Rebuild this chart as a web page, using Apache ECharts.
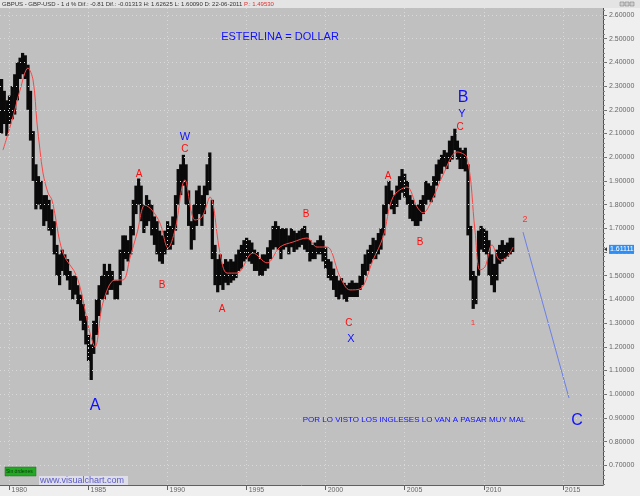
<!DOCTYPE html>
<html><head><meta charset="utf-8">
<script src="https://cdn.jsdelivr.net/npm/echarts@6/dist/echarts.min.js"></script>
<style>html,body{margin:0;padding:0;background:#efefef}#c{width:640px;height:496px}</style>
</head><body><div id="c"></div>
<script>
// ---- DATA ----
const dates = [1979.50,1979.67,1979.83,1980.00,1980.17,1980.33,1980.50,1980.67,1980.83,1981.00,1981.17,1981.33,1981.50,1981.67,1981.83,
1982.00,1982.17,1982.33,1982.50,1982.67,1982.83,1983.00,1983.17,1983.33,1983.50,1983.67,1983.83,1984.00,1984.17,1984.33,1984.50,1984.67,1984.83,
1985.00,1985.17,1985.33,1985.50,1985.67,1985.83,1986.00,1986.17,1986.33,1986.50,1986.67,1986.83,1987.00,1987.17,1987.33,1987.50,1987.67,1987.83,
1988.00,1988.17,1988.33,1988.50,1988.67,1988.83,1989.00,1989.17,1989.33,1989.50,1989.67,1989.83,1990.00,1990.17,1990.33,1990.50,1990.67,1990.83,
1991.00,1991.17,1991.33,1991.50,1991.67,1991.83,1992.00,1992.17,1992.33,1992.50,1992.67,1992.83,1993.00,1993.17,1993.33,1993.50,1993.67,1993.83,
1994.00,1994.17,1994.33,1994.50,1994.67,1994.83,1995.00,1995.17,1995.33,1995.50,1995.67,1995.83,1996.00,1996.17,1996.33,1996.50,1996.67,1996.83,
1997.00,1997.17,1997.33,1997.50,1997.67,1997.83,1998.00,1998.17,1998.33,1998.50,1998.67,1998.83,1999.00,1999.17,1999.33,1999.50,1999.67,1999.83,
2000.00,2000.17,2000.33,2000.50,2000.67,2000.83,2001.00,2001.17,2001.33,2001.50,2001.67,2001.83,2002.00,2002.17,2002.33,2002.50,2002.67,2002.83,
2003.00,2003.17,2003.33,2003.50,2003.67,2003.83,2004.00,2004.17,2004.33,2004.50,2004.67,2004.83,2005.00,2005.17,2005.33,2005.50,2005.67,2005.83,
2006.00,2006.17,2006.33,2006.50,2006.67,2006.83,2007.00,2007.17,2007.33,2007.50,2007.67,2007.83,2008.00,2008.17,2008.33,2008.50,2008.67,2008.83,
2009.00,2009.17,2009.33,2009.50,2009.67,2009.83,2010.00,2010.17,2010.33,2010.50,2010.67,2010.83,2011.00,2011.17,2011.33,2011.50,2011.67,2011.83];
const highs = [2.33,2.28,2.24,2.26,2.30,2.35,2.40,2.42,2.44,2.43,2.39,2.28,2.11,1.97,1.92,
1.90,1.84,1.84,1.82,1.78,1.73,1.63,1.59,1.61,1.59,1.57,1.52,1.50,1.50,1.46,1.42,1.38,1.33,
1.25,1.21,1.31,1.40,1.46,1.50,1.55,1.52,1.55,1.52,1.48,1.48,1.61,1.67,1.67,1.65,1.71,1.82,
1.88,1.91,1.88,1.80,1.84,1.82,1.80,1.75,1.73,1.69,1.67,1.69,1.73,1.71,1.75,1.84,1.95,1.97,
2.01,1.97,1.86,1.73,1.80,1.86,1.88,1.84,1.88,1.97,2.02,1.82,1.63,1.57,1.59,1.55,1.57,1.56,
1.57,1.56,1.59,1.61,1.63,1.65,1.66,1.65,1.64,1.61,1.60,1.57,1.59,1.59,1.62,1.65,1.71,1.73,
1.71,1.70,1.70,1.70,1.67,1.70,1.69,1.68,1.69,1.70,1.71,1.68,1.65,1.63,1.64,1.65,1.67,1.65,
1.62,1.57,1.56,1.53,1.50,1.48,1.49,1.47,1.46,1.47,1.48,1.47,1.47,1.50,1.55,1.59,1.61,1.63,
1.66,1.65,1.68,1.70,1.80,1.88,1.90,1.86,1.84,1.88,1.92,1.95,1.93,1.90,1.84,1.82,1.80,1.80,
1.82,1.84,1.90,1.89,1.88,1.92,1.97,1.99,2.01,2.03,2.02,2.07,2.09,2.12,2.07,2.04,2.03,2.04,
1.97,1.71,1.52,1.50,1.69,1.71,1.70,1.69,1.65,1.59,1.55,1.61,1.63,1.65,1.63,1.64,1.66,1.66];
const lows = [2.10,2.14,2.09,2.14,2.16,2.18,2.24,2.33,2.35,2.33,2.20,2.07,1.90,1.78,1.80,
1.78,1.71,1.73,1.69,1.67,1.59,1.50,1.46,1.52,1.50,1.48,1.44,1.40,1.42,1.38,1.31,1.27,1.21,
1.14,1.06,1.17,1.25,1.33,1.40,1.40,1.42,1.44,1.44,1.40,1.40,1.46,1.52,1.57,1.56,1.59,1.67,
1.76,1.80,1.73,1.68,1.71,1.73,1.67,1.63,1.59,1.56,1.55,1.59,1.61,1.61,1.63,1.69,1.80,1.84,
1.88,1.80,1.71,1.61,1.65,1.71,1.76,1.71,1.76,1.84,1.86,1.57,1.46,1.43,1.46,1.44,1.47,1.46,
1.47,1.48,1.49,1.52,1.53,1.56,1.57,1.56,1.55,1.52,1.52,1.50,1.50,1.52,1.53,1.57,1.61,1.62,
1.61,1.57,1.61,1.62,1.59,1.62,1.60,1.61,1.62,1.63,1.61,1.60,1.56,1.57,1.57,1.59,1.59,1.56,
1.53,1.49,1.48,1.44,1.41,1.40,1.42,1.40,1.39,1.41,1.41,1.41,1.41,1.44,1.46,1.50,1.52,1.55,
1.57,1.57,1.59,1.61,1.67,1.76,1.80,1.78,1.76,1.79,1.82,1.85,1.83,1.80,1.74,1.73,1.71,1.71,
1.73,1.76,1.80,1.82,1.81,1.83,1.88,1.90,1.93,1.96,1.95,1.98,1.99,2.03,1.99,1.95,1.95,1.94,
1.67,1.48,1.36,1.38,1.50,1.61,1.60,1.59,1.50,1.46,1.43,1.48,1.55,1.56,1.57,1.58,1.59,1.60];
const maDates = [1979.59,1980.22,1980.67,1981.17,1981.49,1981.74,1981.93,1982.12,1982.44,1982.69,1983.38,1984.27,1985.09,1985.41,1985.91,
1986.67,1987.18,1987.62,1988.07,1988.57,1989.01,1989.52,1990.03,1990.47,1991.10,1991.73,1992.18,1992.68,1993.32,1993.76,1994.39,1995.40,
1996.29,1997.11,1997.93,1998.82,1999.45,2000.08,2000.91,2001.54,2002.17,2002.99,2003.63,2004.26,2005.14,2005.78,2006.16,2006.72,2007.42,
2008.31,2008.94,2009.44,2009.76,2010.08,2010.52,2011.03,2011.47,2011.85];
const maValues = [2.030,2.170,2.284,2.376,2.326,2.144,2.030,1.933,1.849,1.819,1.596,1.495,1.258,1.199,1.385,
1.482,1.482,1.575,1.680,1.798,1.777,1.722,1.617,1.693,1.904,1.735,1.748,1.832,1.596,1.511,1.511,1.596,
1.554,1.621,1.642,1.659,1.621,1.621,1.495,1.440,1.444,1.566,1.663,1.832,1.874,1.790,1.765,1.819,1.925,
2.022,1.997,1.693,1.524,1.537,1.630,1.566,1.579,1.621];
const projectionDates = [2012.48, 2015.39];
const projectionValues = [1.684, 0.984];
const lastPrice = 1.61111;
const yTickLabels = [0.7,0.8,0.9,1.0,1.1,1.2,1.3,1.4,1.5,1.6,1.7,1.8,1.9,2.0,2.1,2.2,2.3,2.4,2.5,2.6];
const xTickLabels = [1980,1985,1990,1995,2000,2005,2010,2015];

// ---- annotations (text placed in data coordinates) ----
const RED = '#ff0d0d', BLUE = '#1010ff';
const annotations = [
  {t:'ESTERLINA = DOLLAR', x:1997.11, y:2.507, c:BLUE, s:11},
  {t:'A', x:1985.41, y:0.954, c:BLUE, s:16},
  {t:'W', x:1991.10, y:2.085, c:BLUE, s:11},
  {t:'C', x:1991.10, y:2.035, c:RED, s:10},
  {t:'A', x:1988.19, y:1.929, c:RED, s:10},
  {t:'B', x:1989.65, y:1.461, c:RED, s:10},
  {t:'A', x:1993.44, y:1.359, c:RED, s:10},
  {t:'B', x:1998.76, y:1.760, c:RED, s:10},
  {t:'C', x:2001.47, y:1.300, c:RED, s:10},
  {t:'X', x:2001.60, y:1.233, c:BLUE, s:11},
  {t:'A', x:2003.94, y:1.921, c:RED, s:10},
  {t:'B', x:2005.97, y:1.642, c:RED, s:10},
  {t:'C', x:2008.50, y:2.127, c:RED, s:10},
  {t:'Y', x:2008.62, y:2.182, c:BLUE, s:11},
  {t:'B', x:2008.69, y:2.250, c:BLUE, s:16},
  {t:'1', x:2009.32, y:1.300, c:'#ff3030', s:8},
  {t:'2', x:2012.61, y:1.735, c:'#ff3030', s:9},
  {t:'C', x:2015.90, y:0.887, c:BLUE, s:16},
  {t:'POR LO VISTO LOS INGLESES LO VAN A PASAR MUY MAL', x:2005.59, y:0.891, c:BLUE, s:8}
];

const F = "'Liberation Sans', Arial, sans-serif";
const minorTicks = [];
for (let v = 0.62; v < 2.63; v += 0.02) minorTicks.push(+v.toFixed(2));

const chart = echarts.init(document.getElementById('c'));
const barData = dates.map((d, i) => [d, highs[i], lows[i]]);
const maData = maDates.map((d, i) => [d, maValues[i]]);
const projData = projectionDates.map((d, i) => [d, projectionValues[i]]);

const option = {
  animation: false,
  backgroundColor: '#efefef',
  grid: {left: 0, right: 37, top: 8, bottom: 11, show: true, backgroundColor: '#c0c0c0', borderWidth: 0},
  xAxis: {
    type: 'value', min: 1979.40, max: 2017.54,
    axisLine: {show: true, onZero: false, lineStyle: {color: '#606060', width: 1}},
    axisTick: {show: true, customValues: xTickLabels, length: 5, lineStyle: {color: '#606060'}},
    axisLabel: {customValues: xTickLabels, formatter: v => String(Math.round(v)), align: 'left', margin: 2,
      padding: [0, 0, 0, 2], color: '#666', fontSize: 7, fontFamily: F},
    splitLine: {show: false}
  },
  yAxis: [{
    type: 'value', position: 'right', min: 0.6169, max: 2.6295,
    axisLine: {show: true, lineStyle: {color: '#505050', width: 1}},
    axisTick: {show: true, customValues: yTickLabels, length: 4, lineStyle: {color: '#707070'}},
    axisLabel: {customValues: yTickLabels, formatter: v => v.toFixed(5), margin: 6, color: '#666', fontSize: 7, fontFamily: F},
    splitLine: {show: false}
  }, {
    type: 'value', position: 'right', offset: 0, min: 0.6169, max: 2.6295,
    axisLine: {show: false},
    axisTick: {show: true, customValues: minorTicks, length: 2, lineStyle: {color: '#808080'}},
    axisLabel: {show: false}, splitLine: {show: false}
  }],
  series: [
    {
      type: 'line', data: maData, smooth: 0.35, symbol: 'none', z: 3,
      lineStyle: {color: '#ff4646', width: 1},
      markLine: {
        silent: true, symbol: 'none', label: {show: false}, animation: false,
        lineStyle: {color: '#d9d9d9', type: [1, 3], width: 1},
        data: yTickLabels.map(v => ({yAxis: v})).concat(xTickLabels.map(v => ({xAxis: v})))
      }
    },
    {
      type: 'custom', data: barData, z: 2, clip: true,
      encode: {x: 0, y: [1, 2]},
      renderItem: (params, api) => {
        const x = api.value(0);
        const top = api.coord([x, api.value(1)]);
        const bot = api.coord([x, api.value(2)]);
        const w = api.size([1 / 6, 0])[0] + 0.6;
        return {type: 'rect', shape: {x: top[0] - w / 2, y: top[1], width: w, height: bot[1] - top[1]},
          style: {fill: '#0a0a0a'}};
      }
    },
    {
      type: 'line', data: projData, symbol: 'none', z: 3,
      lineStyle: {color: '#6b7fe6', width: 1}
    },
    {
      type: 'scatter', symbolSize: 1, z: 5, itemStyle: {color: 'rgba(0,0,0,0)'},
      data: annotations.map(a => ({
        value: [a.x, a.y],
        label: {show: true, position: 'inside', formatter: a.t, color: a.c, fontSize: a.s, fontFamily: F,
          textBorderWidth: 0, opacity: 1}
      }))
    }
  ]
};
chart.setOption(option);

const py = chart.convertToPixel({yAxisIndex: 0}, lastPrice);
chart.setOption({
  graphic: [
    {type: 'rect', left: 0, top: 0, shape: {width: 640, height: 8}, style: {fill: '#e4e4e4'}, z: 100},
    {type: 'text', x: 2, y: 1, z: 101, style: {
      text: '{a|GBPUS - GBP-USD - 1 d % Dif.: -0.81 Dif.: -0.01313 H: 1.62625 L: 1.60090 D: 22-06-2011 }{b|P.: 1.49530}',
      rich: {a: {fontSize: 6, fill: '#333', color: '#333', fontFamily: F}, b: {fontSize: 6, fill: '#e03030', color: '#e03030', fontFamily: F}}
    }},
    {type: 'rect', x: 620, y: 2, shape: {width: 4, height: 4}, style: {fill: '#cfcfcf', stroke: '#777', lineWidth: 0.5}, z: 101},
    {type: 'rect', x: 625, y: 2, shape: {width: 4, height: 4}, style: {fill: '#cfcfcf', stroke: '#777', lineWidth: 0.5}, z: 101},
    {type: 'rect', x: 630, y: 2, shape: {width: 4, height: 4}, style: {fill: '#cfcfcf', stroke: '#777', lineWidth: 0.5}, z: 101},
    {type: 'rect', x: 609, y: py - 4.5, shape: {width: 25, height: 9}, style: {fill: '#2f8ef4'}, z: 101},
    {type: 'text', x: 610, y: py - 3.5, z: 102, style: {text: lastPrice.toFixed(5), fill: '#ffffff', fontSize: 7, fontFamily: F}},
    {type: 'polygon', z: 102, shape: {points: [[604, py], [607, py - 2], [607, py + 2]]}, style: {fill: '#333'}},
    {type: 'rect', x: 5, y: 467, shape: {width: 31, height: 9}, style: {fill: '#22a822', stroke: '#117711', lineWidth: 0.5}, z: 101},
    {type: 'text', x: 6, y: 469, z: 102, style: {text: 'Sin órdenes', fill: '#0b3b0b', fontSize: 5, fontFamily: F}},
    {type: 'rect', x: 39, y: 476, shape: {width: 89, height: 9}, style: {fill: '#dedee8'}, z: 101},
    {type: 'text', x: 40, y: 476.5, z: 102, style: {text: 'www.visualchart.com', fill: '#5a5ac8', fontSize: 9, fontFamily: F}}
  ]
});
</script>
</body></html>
